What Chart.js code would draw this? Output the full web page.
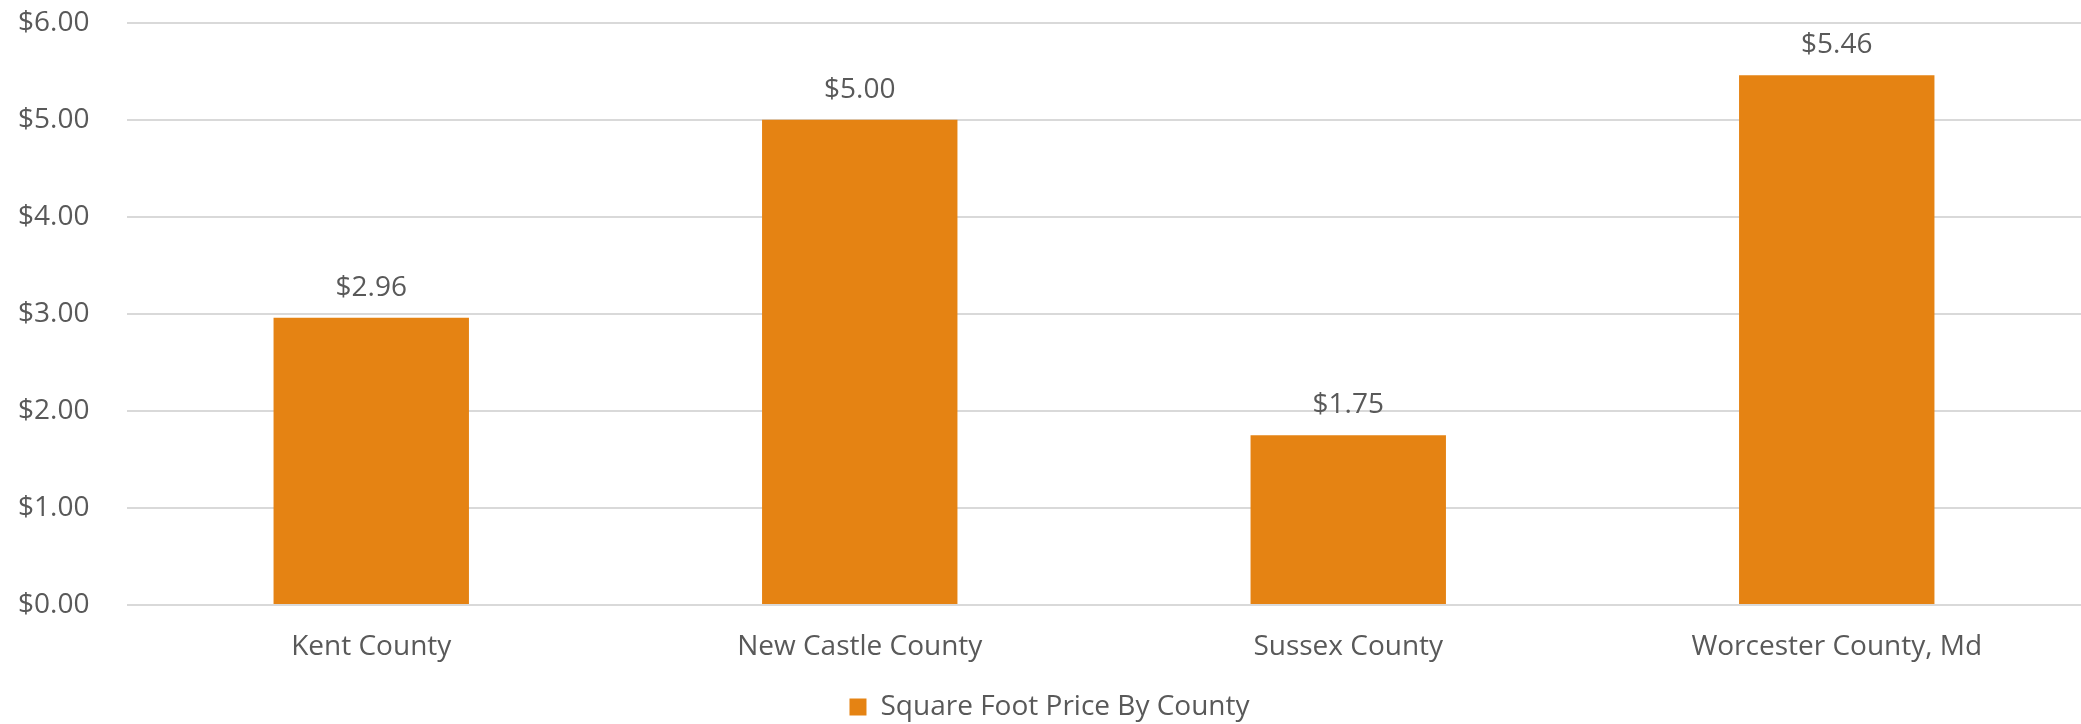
<!DOCTYPE html>
<html>
<head>
<meta charset="utf-8">
<script src="https://cdn.jsdelivr.net/npm/chart.js@4.4.0/dist/chart.umd.js"></script>
<style>
  html, body { margin: 0; padding: 0; background: #ffffff; }
  #wrap { width: 2081px; height: 724px; }
</style>
</head>
<body>
<div id="wrap"><canvas id="priceChart" width="2081" height="724"></canvas></div>
<script>
(function() {
    'use strict';

    // Chart data
    const counties = ['Kent County', 'New Castle County', 'Sussex County', 'Worcester County, Md'];
    const pricePerSqFt = [2.96, 5.00, 1.75, 5.46];
    const seriesLabel = 'Square Foot Price By County';
    const yTicks = [0, 1, 2, 3, 4, 5, 6];

    const barColor = '#E58313';
    const textColor = '#595959';
    const gridColor = '#D9D9D9';
    const fontFamily = '"Open Sans", "Liberation Sans", sans-serif';
    const fontSize = 28;

    const money = v => '$' + Number(v).toFixed(2);

    // Draws the value above each bar
    const valueLabels = {
        id: 'valueLabels',
        afterDatasetsDraw(chart) {
            const ctx = chart.ctx;
            const meta = chart.getDatasetMeta(0);
            ctx.save();
            ctx.font = fontSize + 'px ' + fontFamily;
            ctx.fillStyle = textColor;
            ctx.textAlign = 'center';
            ctx.textBaseline = 'middle';
            meta.data.forEach((bar, i) => {
                ctx.fillText(money(pricePerSqFt[i]), bar.x, bar.y - 30);
            });
            ctx.restore();
        }
    };

    const ctx = document.getElementById('priceChart').getContext('2d');
    new Chart(ctx, {
        type: 'bar',
        data: {
            labels: counties,
            datasets: [{
                label: seriesLabel,
                data: pricePerSqFt,
                backgroundColor: barColor,
                borderWidth: 0,
                categoryPercentage: 0.8,
                barPercentage: 0.5
            }]
        },
        options: {
            responsive: false,
            animation: false,
            layout: { padding: { left: 18, right: 0, top: 0, bottom: -7 } },
            plugins: {
                legend: {
                    position: 'bottom',
                    labels: {
                        color: textColor,
                        font: { family: fontFamily, size: fontSize },
                        boxWidth: 17,
                        boxHeight: 17,
                        padding: 0
                    }
                },
                tooltip: { enabled: false }
            },
            scales: {
                x: {
                    grid: { display: false, drawTicks: false },
                    border: { display: false },
                    ticks: {
                        color: textColor,
                        font: { family: fontFamily, size: fontSize },
                        padding: 25
                    },
                    afterFit(scale) { scale.height = 88; }
                },
                y: {
                    min: 0,
                    max: 6,
                    afterBuildTicks(scale) {
                        scale.ticks = yTicks.map(v => ({ value: v }));
                    },
                    grid: { color: gridColor, lineWidth: 2, drawTicks: false },
                    border: { display: false },
                    ticks: {
                        color: textColor,
                        font: { family: fontFamily, size: fontSize },
                        padding: 6,
                        crossAlign: 'far',
                        callback: v => money(v)
                    },
                    afterFit(scale) { scale.width = 109; }
                }
            }
        },
        plugins: [valueLabels]
    });
})();
</script>
</body>
</html>
